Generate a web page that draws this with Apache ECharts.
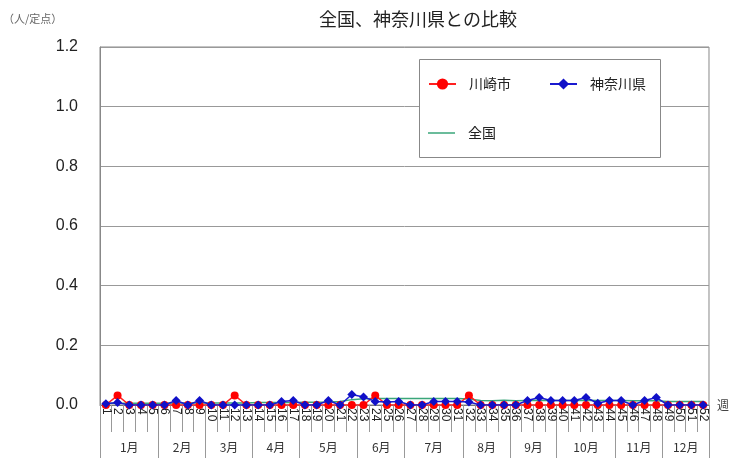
<!DOCTYPE html>
<html>
<head>
<meta charset="utf-8">
<script src="https://cdn.jsdelivr.net/npm/echarts@6/dist/echarts.min.js"></script>
<style>
html,body{margin:0;padding:0;background:#fff;}
#main{width:732px;height:458px;}
</style>
</head>
<body>
<div id="main"></div>
<script>
const weeks = ['1','2','3','4','5','6','7','8','9','10','11','12','13','14','15','16','17','18','19','20','21','22','23','24','25','26','27','28','29','30','31','32','33','34','35','36','37','38','39','40','41','42','43','44','45','46','47','48','49','50','51','52'];
const months = ['1月','2月','3月','4月','5月','6月','7月','8月','9月','10月','11月','12月'];
const monthFirstWeek = [1,6,10,14,18,23,27,32,36,40,45,49];
const yTicks = [0, 0.2, 0.4, 0.6, 0.8, 1.0, 1.2];

const kawasaki = [0,0.032,0,0,0,0,0,0,0,0,0,0.032,0,0,0,0,0,0,0,0,0,0,0,0.032,0,0,0,0,0,0,0,0.032,0,0,0,0,0,0,0,0,0,0,0,0,0,0,0,0,0,0,0,0];
const kanagawa = [0.004,0.008,0,0,0,0,0.015,0,0.015,0,0,0,0,0,0,0.012,0.015,0,0,0.015,0,0.035,0.027,0.012,0.01,0.012,0,0,0.012,0.012,0.012,0.01,0,0,0,0,0.015,0.025,0.015,0.015,0.015,0.025,0.006,0.015,0.015,0,0.015,0.025,0,0,0,0];
const national = [0.006,0.006,0.006,0.006,0.006,0.006,0.007,0.007,0.007,0.007,0.007,0.007,0.007,0.008,0.008,0.008,0.008,0.009,0.009,0.01,0.012,0.018,0.021,0.022,0.022,0.022,0.022,0.022,0.022,0.022,0.022,0.02,0.015,0.014,0.016,0.014,0.015,0.016,0.015,0.015,0.015,0.016,0.015,0.015,0.015,0.014,0.014,0.014,0.012,0.012,0.012,0.012];

// month label placement derived from month first weeks
const monthInfo = months.map(function (name, i) {
  const s = monthFirstWeek[i] - 1;
  const e = (i < months.length - 1 ? monthFirstWeek[i + 1] - 1 : weeks.length) - 1;
  const c = (s + e) / 2;
  return { name: name, start: s, idx: Math.floor(c), half: c !== Math.floor(c) };
});
const monthStartIdx = monthInfo.map(function (m) { return m.start; });

const JP = '"Noto Sans CJK JP", "Noto Sans", sans-serif';
const NUM = '"Liberation Sans", Arial, sans-serif';

const chart = echarts.init(document.getElementById('main'), null, { renderer: 'canvas' });
chart.setOption({
  animation: false,
  backgroundColor: '#fff',
  title: [
    { text: '全国、神奈川県との比較', left: 319, top: 10, padding: 0,
      textStyle: { fontFamily: JP, fontSize: 18, fontWeight: 'normal', color: '#222' } },
    { text: '（人/定点）', left: 3, top: 13, padding: 0,
      textStyle: { fontFamily: JP, fontSize: 11, fontWeight: 'normal', color: '#666' } }
  ],
  graphic: [
    { type: 'rect', left: 419, top: 59, z: 5,
      shape: { width: 241, height: 98 },
      style: { fill: '#fff', stroke: '#888', lineWidth: 1 } }
  ],
  legend: [
    { data: ['川崎市'], left: 428, top: 77, z: 6, padding: 0, itemWidth: 27, itemHeight: 14,
      textStyle: { fontFamily: JP, fontSize: 14, color: '#222', padding: [0, 0, 0, 8] } },
    { data: ['神奈川県'], left: 549, top: 77, z: 6, padding: 0, itemWidth: 27, itemHeight: 14,
      textStyle: { fontFamily: JP, fontSize: 14, color: '#222', padding: [0, 0, 0, 8] } },
    { data: ['全国'], left: 428, top: 126, z: 6, padding: 0, itemWidth: 27, itemHeight: 14,
      icon: 'path://M0,0 L27,0 L27,1.5 L0,1.5 Z',
      textStyle: { fontFamily: JP, fontSize: 14, color: '#222', padding: [0, 0, 0, 8] } }
  ],
  grid: { left: 100, right: 14, top: 47, bottom: 53, show: true, borderColor: '#888', borderWidth: 1 },
  xAxis: [
    {
      type: 'category', data: weeks, boundaryGap: true, position: 'bottom',
      name: '週', nameLocation: 'end', nameGap: 8,
      nameTextStyle: { fontFamily: JP, fontSize: 12, color: '#444', padding: [14, 0, 0, 0] },
      axisLine: { show: true, lineStyle: { color: '#777' } },
      axisTick: { show: true, interval: 0, length: 27, lineStyle: { color: '#999' } },
      axisLabel: { interval: 0, rotate: -90, margin: 3, fontFamily: NUM, fontSize: 12, color: '#222' },
      splitLine: { show: false }
    },
    {
      type: 'category', data: weeks, boundaryGap: true, position: 'bottom', offset: 0,
      axisLine: { show: false },
      axisTick: { show: true, length: 53, lineStyle: { color: '#999' },
        interval: function (index) { return monthStartIdx.indexOf(index) >= 0; } },
      axisLabel: {
        interval: 0, margin: 36, fontFamily: JP, fontSize: 12, color: '#333',
        formatter: function (value, index) {
          for (let i = 0; i < monthInfo.length; i++) {
            if (monthInfo[i].idx === index) {
              return (monthInfo[i].half ? '{s|' : '{n|') + monthInfo[i].name + '}';
            }
          }
          return '';
        },
        rich: {
          n: { fontFamily: JP, fontSize: 12, color: '#333' },
          s: { fontFamily: JP, fontSize: 12, color: '#333', padding: [0, 0, 0, 12] }
        }
      },
      splitLine: { show: false }
    }
  ],
  yAxis: {
    type: 'value', min: yTicks[0], max: yTicks[yTicks.length - 1], interval: 0.2,
    axisLine: { show: true, lineStyle: { color: '#888' } },
    axisTick: { show: false },
    axisLabel: { margin: 22, fontFamily: NUM, fontSize: 16, color: '#222',
      formatter: function (v) { return v.toFixed(1); } },
    splitLine: { show: true, lineStyle: { color: '#999', width: 1 } }
  },
  series: [
    { name: '全国', type: 'line', data: national, symbol: 'none', z: 2,
      lineStyle: { color: '#3aa67a', width: 1.5 }, itemStyle: { color: '#3aa67a' } },
    { name: '川崎市', type: 'line', data: kawasaki, symbol: 'circle', symbolSize: 8, z: 3,
      lineStyle: { color: '#ff2020', width: 1.5 }, itemStyle: { color: '#ff0000' } },
    { name: '神奈川県', type: 'line', data: kanagawa, symbol: 'diamond', symbolSize: 9, z: 4,
      lineStyle: { color: '#1a1ad0', width: 1.5 }, itemStyle: { color: '#1010c8' } }
  ]
});
</script>
</body>
</html>
